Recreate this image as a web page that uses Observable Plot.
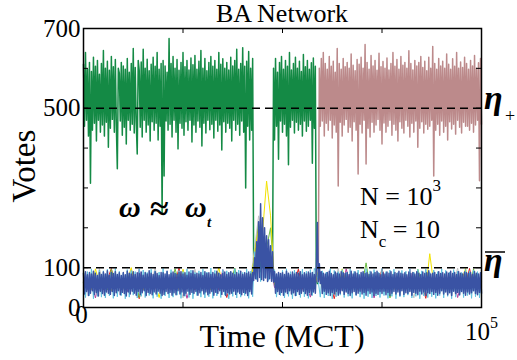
<!DOCTYPE html>
<html><head><meta charset="utf-8">
<script src="https://cdn.jsdelivr.net/npm/d3@7"></script>
<script src="https://cdn.jsdelivr.net/npm/@observablehq/plot@0.6"></script>
<style>body{margin:0;background:#fff}svg{display:block}</style>
</head><body><div id="chart"></div>
<script>
// ---- labels / ticks ----
const titleText = "BA Network";
const yAxisLabel = "Votes";
const xAxisLabel = "Time (MCT)";
const yTicks = [0,100,200,300,400,500,600,700];
const yTickLabels = [0,100,500,700];
const xTicks = [0,25000,50000,75000,100000];
const xTickLabelsLeft = ["0"];
const thresholds = [500,100];   // eta_+ and eta-bar

// ---- series (sampled every 250 MCT unless noted) ----
const greenStartA = 0;
const greenVotesA = [
610,455,640,470,598,430,615,312,592,445,
628,462,605,418,620,470,585,440,612,458,
645,430,600,465,618,402,595,450,630,472,
604,440,622,455,348,600,588,468,615,432,
606,452,598,410,625,470,590,445,612,460,
650,438,602,464,385,620,595,452,616,428,
648,470,600,440,623,458,594,418,610,466,
628,445,605,462,640,420,598,455,612,235,
620,330,606,468,590,445,675,460,612,428,
630,470,600,440,622,398,595,462,615,450,
640,432,604,466,620,445,596,470,626,415,
609,458,632,440,598,468,618,452,645,405,
600,462,625,438,594,470,615,446,630,460,
605,425,620,470,598,442,640,458,610,395,
624,466,600,440,615,462,596,450,628,418,
606,470,620,445,648,460,598,432,612,468,
652,440,605,300,618,455,642,420,600,445,
625];
const greenStartGap = 42750;
const greenVotesGap = [120,100,130,95,115,105,125,90,110,100,118,98,122,104,112,96,126,102,115,108];
const greenStartB = 47750;
const greenVotesB = [
600,420,625,455,590,372,615,468,630,440,
598,460,620,430,605,358,640,452,596,470,
612,438,628,465,600,445,618,460,592,430,
635,468,604,442,620,455,598,470,614,362,
626,450,605,70,60];

const pinkStart = 58500;
const pinkVotes = [
80,65,90,
600,455,625,468,640,430,612,462,598,445,
630,470,605,425,618,458,590,440,650,305,
612,465,598,430,625,458,604,472,615,440,
600,452,636,418,608,466,594,445,622,335,
610,460,628,438,600,470,660,360,615,450,
598,428,632,465,606,440,620,458,595,472,
638,445,604,410,617,463,600,440,626,455,
596,470,612,432,640,460,605,445,622,418,
598,466,630,450,608,438,615,470,600,455,
644,428,612,462,596,440,620,468,606,402,
615,450,630,466,602,438,618,460,594,447,
628,455,600,470,655,330,612,445,598,460,
625,432,606,468,618,440,600,455,636,420,
610,466,598,448,624,460,605,435,640,470,
600,452,616,438,602,465,628,455,612,455,
598,445,620,462,606,440,632,458,600,470,
614,318,625,460];

const blueStart = 0;
const blueVotes = [
86,34,90,40,82,30,88,36,84,42,
91,33,85,38,80,29,87,41,83,35,
89,31,84,39,92,36,81,33,88,40,
85,30,90,37,83,42,87,32,80,38,
88,35,82,29,91,39,86,34,84,41,
90,36,83,31,87,40,85,33,89,37,
81,42,88,30,84,38,92,35,86,32,
83,39,90,34,85,41,80,36,88,30,
87,33,84,40,91,35,82,38,86,31,
89,37,85,32,83,42,88,34,90,39,
84,30,87,36,81,41,89,33,85,38,
92,35,83,40,86,31,84,37,88,42,
80,34,90,39,85,32,87,36,83,40,
88,31,84,38,91,35,86,42,82,33,
85,40,89,30,83,37,87,34,90,36,
86,41,82,33,88,39,84,35,91,32,
83,38,87,36,85,30,89,40,84,34,
88,68,125,72,165,66,215,75,260,70,
225,68,200,74,180,65,170,72,155,66,
140,64,90,36,84,40,88,33,85,38,
87,31,83,39,91,35,86,42,82,34,
89,37,84,30,88,40,85,33,90,36,
82,41,87,35,84,31,89,38,86,32,
88,39,83,36,100,213,65,110,60,90,
35,86,41,84,33,88,37,91,30,85,
38,82,34,89,40,86,31,84,36,90,
42,87,33,85,39,88,35,83,30,91,
37,84,40,89,32,86,36,82,41,88,
34,90,38,85,31,87,42,83,35,89,
39,84,30,88,36,91,33,85,40,82,
35,87,41,84,32,89,38,86,30,90,
36,83,40,88,34,85,39,91,31,86,
42,84,33,87,37,82,35,89,40,85,
31,88,38,84,36,90,32,86,41,83,
34,89,39,85,30,87,37,92,35,84,
40,86,33,88,38,83,31,90,36,85,
42,87,34,84,39,89,32,86,37,91,
30,85,41,88,35,83,38,90,33,86,
40,84,36,89,31,87,39,85,34,88,
37,83,42,90,35,86,32,84,38,87,
36];

// sampled every 500 MCT
const cyanVotes = [
95,25,90,30,97,22,88,28,94,26,
92,24,96,29,89,23,98,27,91,30,
87,22,95,26,93,31,90,24,97,28,
94,25,88,30,96,23,92,27,89,22,
98,29,91,24,95,26,87,31,93,23,
90,28,97,25,94,22,88,30,92,26,
96,24,89,27,99,23,93,29,87,25,
95,31,92,22,90,28,97,24,94,26,
88,30,96,23,91,27,140,70,170,65,
150,75,130,68,120,72,95,26,89,30,
93,24,97,28,90,22,94,29,88,25,
96,27,91,23,95,30,98,90,65,26,
92,24,89,29,97,22,93,27,90,31,
95,25,88,28,96,23,91,30,94,26,
87,22,97,27,92,24,95,29,89,25,
98,30,90,23,94,28,96,22,88,27,
93,26,91,31,97,24,89,28,95,22,
92,29,96,25,88,27,94,23,90,30,
97,24,93,28,89,22,95,26,91,29,
88,25,96,30,92,23,94,27,90,24,
95];

// sampled every 1000 MCT
const greyVotes = [
60,50,70,45,98,55,65,40,75,50,
62,48,95,52,68,44,72,58,100,50,
64,46,70,55,66,24,74,50,96,48,
60,52,68,45,70,56,62,40,99,50,
66,48,72,150,230,180,140,120,55,45,
70,52,64,47,97,55,68,43,72,110,
58,46,66,52,98,44,70,55,62,48,
74,50,65,45,69,97,60,53,67,42,
71,56,63,24,68,50,95,47,64,52,
70,45,66,58,99,48,62,54,73,46,
65];
const yellowVotes = [
55,65,45,97,60,50,70,42,62,58,
48,68,100,52,64,44,72,56,60,25,
66,50,58,70,45,96,62,54,68,47,
60,72,44,58,101,50,64,46,70,55,
52,66,48,140,200,190,317,230,60,48,
64,52,70,46,58,68,44,62,56,90,
48,66,54,70,45,97,60,52,68,44,
62,56,70,48,64,50,58,66,46,72,
54,60,47,69,52,63,45,135,58,66,
50,70,44,62,55,67,98,48,64,52,
60];
const magentaVotes = [
65,45,60,24,70,50,62,55,48,68,
58,40,72,52,96,46,64,56,50,66,
44,70,55,62,48,66,23,58,70,50,
62,47,68,54,45,95,60,52,66,48,
56,70,46,120,180,160,140,110,50,62,
68,48,60,55,44,72,58,26,66,80,
52,64,48,70,56,45,97,60,50,66,
46,62,70,24,58,66,50,64,46,70,
60,52,96,48,66,55,44,62,70,50,
64,46,58,70,25,60,52,68,47,62,
55];
const redVotes = [
50,68,46,62,58,44,70,98,52,60,
66,46,60,54,22,64,50,70,48,62,
56,72,45,60,99,50,66,52,44,68,
60,48,70,56,46,64,25,58,62,50,
68,54,46,110,150,130,120,100,62,48,
56,66,50,62,96,46,60,54,70,75,
64,48,60,22,66,52,70,46,58,62,
50,68,54,60,46,97,62,50,66,45,
58,64,48,70,52,60,23,66,55,62,
46,60,70,52,64,48,58,98,50,66,
60];
const limeVotes = [
62,52,68,46,60,70,44,96,58,50,
66,48,60,72,25,54,64,50,68,46,
58,66,50,97,62,46,70,54,60,48,
64,52,46,68,58,70,44,62,99,50,
60,48,66,130,210,170,150,200,56,66,
52,62,48,70,56,64,46,58,60,85,
66,50,62,46,70,55,60,48,64,52,
58,112,50,66,46,62,70,24,56,64,
48,66,58,52,96,60,46,70,54,62,
64,50,68,46,60,56,72,48,97,58,
54];

// ---- build tables ----
const rows = (name, t0, dt, vals) => vals.map((v, i) => ({name, t: t0 + i * dt, v}));
const green = [
  ...rows("green", greenStartA, 250, greenVotesA),
  ...rows("green", greenStartGap, 250, greenVotesGap),
  ...rows("green", greenStartB, 250, greenVotesB)
];
const pink = rows("pink", pinkStart, 250, pinkVotes);
const blue = rows("blue", blueStart, 250, blueVotes);
const cyan = rows("cyan", 0, 500, cyanVotes);
const grey = rows("grey", 0, 1000, greyVotes);
const yellow = rows("yellow", 0, 1000, yellowVotes);
const magenta = rows("magenta", 0, 1000, magentaVotes);
const red = rows("red", 0, 1000, redVotes);
const lime = rows("lime", 0, 1000, limeVotes);

const serif = "'Liberation Serif','Times New Roman',serif";
const ln = (data, stroke, w = 1) => Plot.lineY(data, {x: "t", y: "v", stroke, strokeWidth: w});

const plot = Plot.plot({
  width: 517, height: 360,
  marginLeft: 83, marginRight: 36, marginTop: 28, marginBottom: 53,
  style: {fontFamily: serif, background: "white", color: "black", overflow: "visible"},
  x: {domain: [0, 100000], axis: null},
  y: {domain: [0, 700], axis: null},
  marks: [
    ln(green, "#148a45", 1.5),
    ln(pink, "#bc8a8b", 1.5),
    ln(grey, "#c4c4c4"),
    ln(magenta, "#b5409b"),
    ln(red, "#e3201f"),
    ln(lime, "#6cbb45"),
    ln(yellow, "#f2e200"),
    ln(cyan, "#5fc3e0"),
    ln(blue, "#3a53a4", 1.5),
    Plot.ruleY(thresholds, {y: d => d, stroke: "black", strokeWidth: 1.5, strokeDasharray: "8,5"}),
    Plot.frame({stroke: "black", strokeWidth: 1.5}),
    Plot.tickY(yTicks, {y: d => d, insetRight: 393, stroke: "black"}),
    Plot.tickY(yTicks, {y: d => d, insetLeft: 393, stroke: "black"}),
    Plot.tickX(xTicks, {x: d => d, insetBottom: 274, stroke: "black"}),
    Plot.tickX(xTicks, {x: d => d, insetTop: 274, stroke: "black"}),
    Plot.text(yTickLabels, {y: d => d, text: d => String(d), frameAnchor: "left", textAnchor: "end", dx: -3, fontSize: 25, fill: "black"}),
    Plot.text(xTickLabelsLeft, {x: d => +d, text: d => d, frameAnchor: "bottom", dx: -2, dy: 15, fontSize: 25, fill: "black"})
  ]
});
document.getElementById("chart").appendChild(plot);

// ---- annotations (real text) ----
const svg = d3.select(plot);
function txt(x, y, s, size, o = {}) {
  const t = svg.append("text").attr("x", x).attr("y", y)
    .attr("font-family", serif).attr("font-size", size).attr("fill", "black")
    .attr("text-anchor", o.anchor || "start").text(s);
  if (o.weight) t.attr("font-weight", o.weight);
  if (o.style) t.attr("font-style", o.style);
  return t;
}
txt(282, 22, titleText, 26, {anchor: "middle"});
txt(282, 347, xAxisLabel, 32, {anchor: "middle"});
txt(0, 0, yAxisLabel, 33, {anchor: "middle"}).attr("transform", "translate(35,166) rotate(-90)");
// x tick label 10^5
const t5 = txt(465, 340, "10", 25);
t5.append("tspan").attr("font-size", 16).attr("dy", -12).text("5");
// omega ≈ omega_t
txt(119, 217, "ω", 30, {weight: "bold", style: "italic"});
txt(150, 220, "≈", 34, {weight: "bold"});
txt(185, 217, "ω", 30, {weight: "bold", style: "italic"});
txt(207, 227, "t", 15, {weight: "bold", style: "italic"});
// N = 10^3
const tN = txt(360, 205, "N = 10", 26);
tN.append("tspan").attr("font-size", 17).attr("dy", -14).text("3");
// N_c = 10
const tNc = txt(360, 238, "N", 26);
tNc.append("tspan").attr("font-size", 17).attr("dy", 9).text("c");
tNc.append("tspan").attr("font-size", 26).attr("dy", -9).text(" = 10");
// eta_+
txt(484, 109, "η", 34, {weight: "bold", style: "italic"});
txt(505, 122, "+", 18);
// eta-bar
txt(484, 271, "η", 34, {weight: "bold", style: "italic"});
svg.append("line").attr("x1", 485).attr("x2", 505).attr("y1", 252).attr("y2", 252).attr("stroke", "black").attr("stroke-width", 1.5);
</script>
</body></html>
